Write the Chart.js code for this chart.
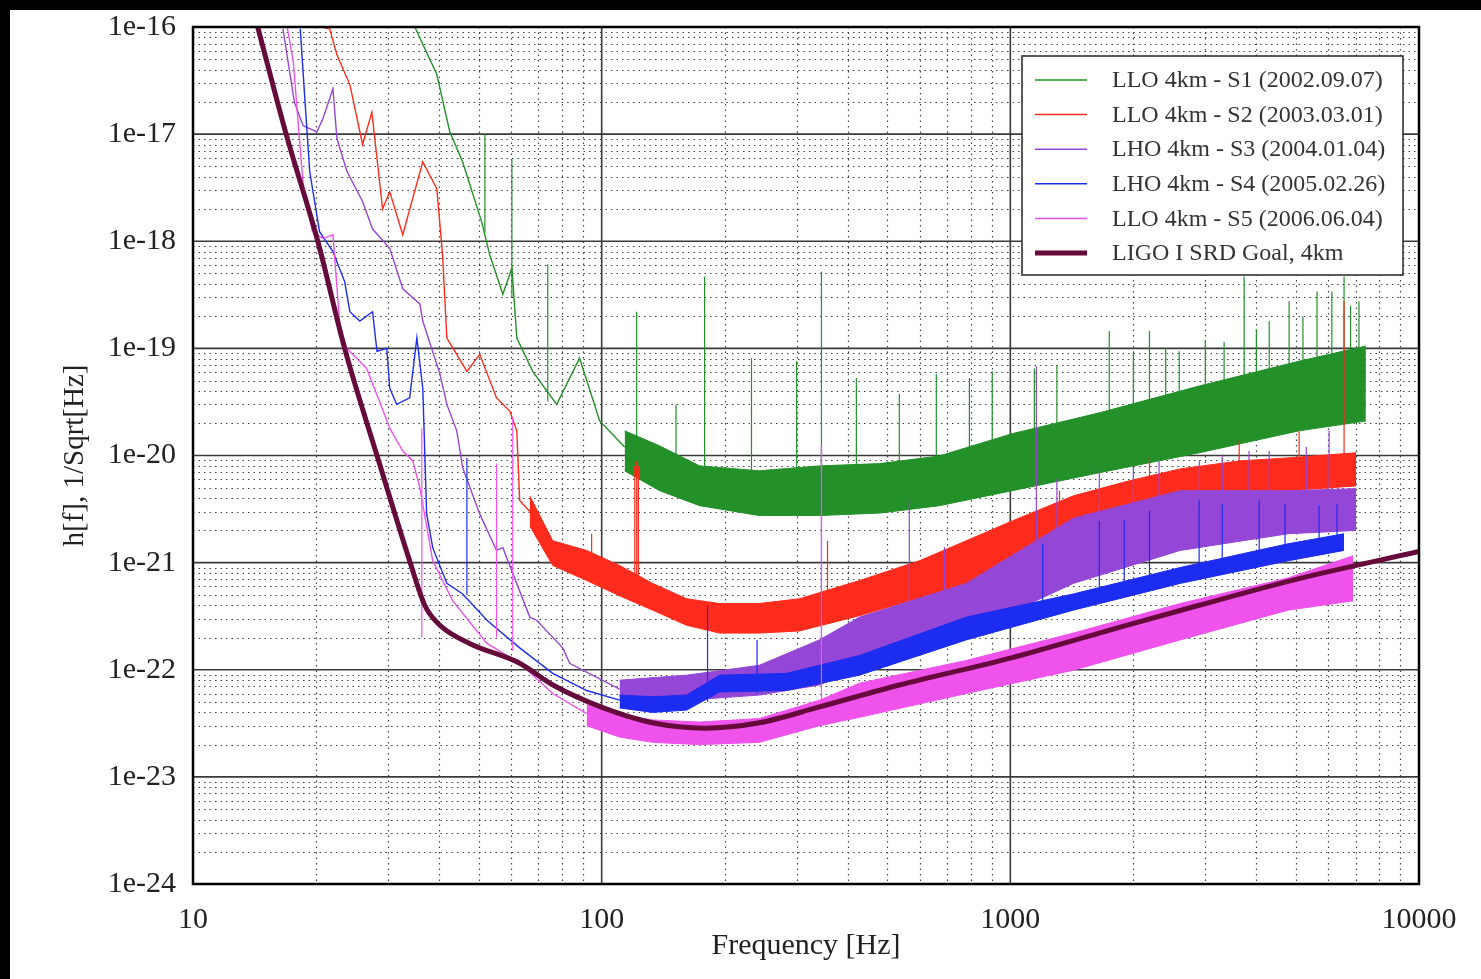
<!DOCTYPE html>
<html>
<head>
<meta charset="utf-8">
<script src="https://cdn.jsdelivr.net/npm/chart.js@4.4.1/dist/chart.umd.min.js"></script>
<style>
  html, body { margin: 0; padding: 0; background: #000; }
  #wrap { width: 1481px; height: 979px; }
</style>
</head>
<body>
<div id="wrap"><canvas id="c" width="1481" height="979"></canvas></div>
<script>
// ---------- data (Hz, 1/sqrt(Hz)) ----------
const seriesLabels = [
  "LLO 4km - S1 (2002.09.07)",
  "LLO 4km - S2 (2003.03.01)",
  "LHO 4km - S3 (2004.01.04)",
  "LHO 4km - S4 (2005.02.26)",
  "LLO 4km - S5 (2006.06.04)",
  "LIGO I SRD Goal, 4km"
];
const seriesColors = ["#23902a", "#ff2b1c", "#9446d6", "#1c2cf0", "#f053ec", "#650a3a"];

const xTickLabels = ["10", "100", "1000", "10000"];
const yTickLabels = ["1e-24", "1e-23", "1e-22", "1e-21", "1e-20", "1e-19", "1e-18", "1e-17", "1e-16"];

// SRD goal
const srdFreq = [14.4, 16.9, 20.2, 23.5, 28.2, 34.0, 36.9, 40.2, 47.5, 63, 76, 101, 133, 179, 243, 341, 535, 1011, 1651, 2897, 5090, 10000];
const srdStrain = [1e-16, 1e-17, 1e-18, 1e-19, 1e-20, 1e-21, 4e-22, 2.6e-22, 1.76e-22, 1.15e-22, 7.2e-23, 4.4e-23, 3.2e-23, 2.85e-23, 3.2e-23, 4.5e-23, 7.2e-23, 1.3e-22, 2.2e-22, 4e-22, 7.1e-22, 1.27e-21];

// S1
const s1Freq = [34.9, 39.5, 42.5, 45.7, 50.9, 53.2, 57.3, 60.3, 62.0, 67.8, 77.6, 88.3, 98.9, 113.8];
const s1Strain = [1e-16, 3.6e-17, 1.05e-17, 5.5e-18, 1.5e-18, 7.5e-19, 3.2e-19, 5.6e-19, 1.25e-19, 6.1e-20, 3.0e-20, 8.1e-20, 2.1e-20, 1.2e-20];
const s1BandFreq = [113.8, 138.6, 173.7, 243, 341, 479, 670, 1011, 1651, 2897, 5090, 7413];
const s1BandHigh = [1.7e-20, 1.23e-20, 8.0e-21, 7.2e-21, 8.0e-21, 8.4e-21, 9.9e-21, 1.6e-20, 2.5e-20, 4.45e-20, 7.6e-20, 1.05e-19];
const s1BandLow = [7.2e-21, 4.7e-21, 3.4e-21, 2.75e-21, 2.75e-21, 2.9e-21, 3.4e-21, 4.7e-21, 6.9e-21, 1.06e-20, 1.7e-20, 2.1e-20];
const s1SpikeFreq = [51.8, 60.3, 73.8, 121.8, 152, 178.6, 232.6, 300, 345, 420, 535, 659, 794, 903, 1145, 1300, 1746, 2000, 2190, 2400, 2590, 3000, 3335, 3733, 4000, 4300, 4810, 5200, 5630, 6120, 6556, 6800, 7130];
const s1SpikeTop = [1e-17, 5.9e-18, 6.1e-19, 2.2e-19, 3.0e-20, 4.7e-19, 8.1e-20, 7.6e-20, 5.2e-19, 5.3e-20, 3.75e-20, 5.75e-20, 5.3e-20, 6.1e-20, 6.5e-20, 7e-20, 1.45e-19, 9e-20, 1.45e-19, 1e-19, 9.4e-20, 1.2e-19, 1.15e-19, 4.7e-19, 1.5e-19, 1.8e-19, 2.75e-19, 2e-19, 3.4e-19, 3.4e-19, 4.7e-19, 2.5e-19, 2.75e-19];
const s1SpikeBase = [1.2e-18, 3e-19, 3.2e-20, 8e-21, 6e-21, 5e-21, 5e-21, 5e-21, 5e-21, 5e-21, 5e-21, 6e-21, 7e-21, 8e-21, 1e-20, 1.2e-20, 1.5e-20, 1.8e-20, 2e-20, 2.2e-20, 2.5e-20, 2.8e-20, 3e-20, 3e-20, 3.5e-20, 4e-20, 4e-20, 4.5e-20, 5e-20, 5e-20, 5e-20, 5e-20, 5e-20];

// S2
const s2Freq = [20.6, 21.6, 22.5, 24.2, 26.0, 27.4, 29.1, 30.3, 32.6, 36.5, 39.5, 40.8, 41.8, 44.2, 46.8, 50.3, 55.3, 59.6, 62.0, 63.0, 66.7];
const s2Strain = [1e-16, 9.6e-17, 5.5e-17, 2.9e-17, 8.0e-18, 1.6e-17, 2.0e-18, 2.9e-18, 1.15e-18, 5.5e-18, 3.1e-18, 7.5e-19, 1.25e-19, 8.8e-20, 6.1e-20, 8.8e-20, 3.45e-20, 2.6e-20, 1.7e-20, 3.8e-21, 3.0e-21];
const s2BandFreq = [66.7, 75.9, 91.9, 110.6, 133.3, 161.4, 194.4, 243, 304.6, 427.6, 599, 780, 1011, 1426, 1954, 2604, 3631, 4783, 7015];
const s2BandHigh = [4.2e-21, 1.6e-21, 1.3e-21, 9.4e-22, 6.4e-22, 4.6e-22, 4.15e-22, 4.15e-22, 4.6e-22, 6.8e-22, 1.04e-21, 1.6e-21, 2.45e-21, 4.2e-21, 5.8e-21, 7.5e-21, 8.9e-21, 9.5e-21, 1.06e-20];
const s2BandLow = [2.2e-21, 9.4e-22, 6.8e-22, 4.9e-22, 3.6e-22, 2.6e-22, 2.2e-22, 2.2e-22, 2.3e-22, 3.2e-22, 4.7e-22, 6.1e-22, 8.4e-22, 1.3e-21, 2.2e-21, 3.05e-21, 4.2e-21, 4.7e-21, 5.2e-21];
const s2SpikeFreq = [94.5, 120.5, 121.8, 123, 357, 1319, 2190, 3631, 5090, 6556];
const s2SpikeTop = [1.86e-21, 8.0e-21, 8.9e-21, 8.0e-21, 1.6e-21, 4.7e-21, 9.9e-21, 1.37e-20, 1.7e-20, 2.75e-19];
const s2SpikeBase = [9e-22, 6e-22, 6e-22, 6e-22, 4e-22, 2e-21, 4e-21, 6e-21, 7e-21, 7e-21];

// S3
const s3Freq = [16.6, 17.7, 18.6, 20.1, 20.8, 22.0, 22.5, 23.8, 26.0, 27.5, 30.3, 32.6, 35.9, 36.5, 40.2, 41.8, 44.2, 45.7, 50.3, 55.3, 57.3, 66.7, 69.3, 80.3, 83.5, 110.6];
const s3Strain = [9.6e-17, 2.0e-17, 1.2e-17, 1.05e-17, 1.4e-17, 2.65e-17, 9.1e-18, 4.5e-18, 2.35e-18, 1.3e-18, 8.6e-19, 3.6e-19, 2.6e-19, 1.8e-19, 5.75e-20, 3.0e-20, 1.7e-20, 7.7e-21, 2.85e-21, 1.3e-21, 1.38e-21, 3.1e-22, 2.9e-22, 1.6e-22, 1.15e-22, 6.6e-23];
const s3BandFreq = [110.6, 161.4, 243, 341, 427.6, 780, 1426, 2604, 4783, 7015];
const s3BandHigh = [8.0e-23, 8.9e-23, 1.1e-22, 1.9e-22, 3.1e-22, 6.4e-22, 2.6e-21, 4.7e-21, 4.7e-21, 4.9e-21];
const s3BandLow = [5.2e-23, 5.2e-23, 5.8e-23, 7.2e-23, 1.05e-22, 2.2e-22, 6.4e-22, 1.3e-21, 1.86e-21, 2.0e-21];
const s3SpikeFreq = [345, 566, 690, 1158, 1300, 1651, 2000, 2312, 2900, 3300, 3838, 4300, 5300, 6026];
const s3SpikeTop = [1.23e-20, 3.8e-21, 1.4e-21, 6.8e-20, 6e-21, 7.2e-21, 8e-21, 8.9e-21, 9e-21, 1.0e-20, 1.1e-20, 1.1e-20, 1.2e-20, 1.7e-20];
const s3SpikeBase = [1e-22, 2e-22, 3e-22, 1e-21, 1.5e-21, 2e-21, 2.5e-21, 3e-21, 3e-21, 3e-21, 3e-21, 3e-21, 3e-21, 3e-21];

// S4
const s4Freq = [18.3, 18.8, 19.3, 20.4, 22.0, 23.5, 24.2, 25.6, 27.5, 28.2, 29.8, 30.3, 31.5, 33.9, 35.3, 36.5, 37.3, 38.6, 41.8, 45.7, 52.4, 63.0, 75.9, 91.9, 110.6];
const s4Strain = [9.6e-17, 2.0e-17, 4.5e-18, 1.23e-18, 8.0e-19, 4.2e-19, 2.2e-19, 1.8e-19, 2.2e-19, 9.4e-20, 1.0e-19, 4.25e-20, 3.0e-20, 3.45e-20, 1.25e-19, 4.25e-20, 2.85e-21, 1.38e-21, 6.4e-22, 5.1e-22, 2.9e-22, 1.6e-22, 9.25e-23, 6.4e-23, 5.2e-23];
const s4BandFreq = [110.6, 133.3, 161.4, 194.4, 283, 427.6, 780, 1426, 2604, 4783, 6556];
const s4BandHigh = [5.8e-23, 5.6e-23, 5.8e-23, 8.9e-23, 9.25e-23, 1.36e-22, 3.1e-22, 5.1e-22, 9.0e-22, 1.5e-21, 1.86e-21];
const s4BandLow = [4.4e-23, 4.0e-23, 4.2e-23, 6.2e-23, 6.4e-23, 8.9e-23, 1.9e-22, 3.6e-22, 6.4e-22, 1.04e-21, 1.3e-21];
const s4SpikeFreq = [46.8, 181.6, 240, 1200, 1651, 1900, 2190, 2897, 3300, 4064, 4700, 5695, 6300];
const s4SpikeTop = [9.5e-21, 4.0e-22, 1.9e-22, 1.5e-21, 2.45e-21, 2.5e-21, 3.05e-21, 3.8e-21, 3.5e-21, 3.8e-21, 3.5e-21, 3.4e-21, 3.5e-21];
const s4SpikeBase = [5e-22, 5e-23, 6e-23, 4e-22, 5e-22, 6e-22, 6e-22, 8e-22, 9e-22, 1e-21, 1.1e-21, 1.3e-21, 1.3e-21];

// S5
const s5Freq = [17.0, 17.6, 18.0, 18.6, 19.6, 20.8, 22.0, 22.9, 23.8, 26.6, 28.6, 30.3, 32.6, 34.5, 35.9, 38.6, 43.2, 52.4, 63.0, 75.9, 91.9];
const s5Strain = [1e-16, 4.7e-17, 1.6e-17, 3.4e-18, 1.23e-18, 1.06e-18, 1.15e-18, 1.55e-19, 1.0e-19, 6.5e-20, 3.2e-20, 1.8e-20, 1.1e-20, 8.9e-21, 5.0e-21, 1.04e-21, 4.4e-22, 1.76e-22, 1.15e-22, 6.0e-23, 3.9e-23];
const s5BandFreq = [91.9, 110.6, 133.3, 173.7, 243, 341, 427.6, 780, 1426, 2604, 4783, 6900];
const s5BandHigh = [4.7e-23, 3.8e-23, 3.4e-23, 3.25e-23, 3.5e-23, 5.2e-23, 7.5e-23, 1.22e-22, 2.2e-22, 4.15e-22, 7.2e-22, 1.16e-21];
const s5BandLow = [3.0e-23, 2.35e-23, 2.1e-23, 2.0e-23, 2.1e-23, 3.0e-23, 3.6e-23, 6.0e-23, 9.9e-23, 1.9e-22, 3.6e-22, 4.4e-22];
const s5SpikeFreq = [36.3, 55.3, 60.6, 345];
const s5SpikeTop = [1.8e-20, 8.4e-21, 2.3e-20, 1.23e-20];
const s5SpikeBase = [2e-22, 2e-22, 1.5e-22, 4e-23];

// ---------- helpers ----------
function points(fs, vs) {
  return fs.map((f, i) => ({ x: f, y: vs[i] }));
}
function spikePoints(fs, tops, bases) {
  const out = [];
  fs.forEach((f, i) => {
    out.push({ x: f, y: bases[i] }, { x: f, y: tops[i] }, { x: f, y: null });
  });
  return out;
}

const runs = [
  [s1Freq, s1Strain, s1BandFreq, s1BandHigh, s1BandLow, s1SpikeFreq, s1SpikeTop, s1SpikeBase],
  [s2Freq, s2Strain, s2BandFreq, s2BandHigh, s2BandLow, s2SpikeFreq, s2SpikeTop, s2SpikeBase],
  [s3Freq, s3Strain, s3BandFreq, s3BandHigh, s3BandLow, s3SpikeFreq, s3SpikeTop, s3SpikeBase],
  [s4Freq, s4Strain, s4BandFreq, s4BandHigh, s4BandLow, s4SpikeFreq, s4SpikeTop, s4SpikeBase],
  [s5Freq, s5Strain, s5BandFreq, s5BandHigh, s5BandLow, s5SpikeFreq, s5SpikeTop, s5SpikeBase]
];

const datasets = [];
runs.forEach((r, k) => {
  const color = seriesColors[k];
  const order = 5 - k; // later runs sit on top
  datasets.push({ label: seriesLabels[k], data: points(r[0], r[1]), borderColor: color, borderWidth: 1.4, order });
  datasets.push({ label: "hi", data: points(r[2], r[3]), borderColor: color, borderWidth: 1, fill: false, order });
  datasets.push({ label: "lo", data: points(r[2], r[4]), borderColor: color, borderWidth: 1, backgroundColor: color, fill: "-1", order });
  datasets.push({ label: "spikes", data: spikePoints(r[5], r[6], r[7]), borderColor: color, borderWidth: 1.2, order });
});
datasets.push({
  label: seriesLabels[5],
  data: points(srdFreq, srdStrain),
  borderColor: seriesColors[5],
  borderWidth: 5,
  cubicInterpolationMode: "monotone",
  order: 0
});

const serif = '"Liberation Serif", "DejaVu Serif", serif';

// ---------- plugin: background, grid, frame, legend ----------
const paper = {
  id: "paper",
  beforeDraw(chart) {
    const ctx = chart.ctx;
    ctx.save();
    ctx.fillStyle = "#fff";
    ctx.fillRect(0, 0, chart.width, chart.height);
    ctx.fillStyle = "#000";
    ctx.fillRect(0, 0, chart.width, 10);
    ctx.fillRect(0, 0, 10, chart.height);
    ctx.restore();
  },
  beforeDatasetsDraw(chart) {
    const ctx = chart.ctx;
    const xs = chart.scales.x, ys = chart.scales.y;
    const { left, right, top, bottom } = chart.chartArea;
    ctx.save();
    // minor dotted grid
    ctx.strokeStyle = "#444";
    ctx.lineWidth = 1.2;
    ctx.setLineDash([1.5, 4]);
    ctx.beginPath();
    for (let e = 1; e < 4; e++) {
      for (let m = 2; m < 10; m++) {
        const px = Math.round(xs.getPixelForValue(m * Math.pow(10, e))) + 0.5;
        ctx.moveTo(px, top); ctx.lineTo(px, bottom);
      }
    }
    for (let e = -24; e < -16; e++) {
      for (let m = 2; m < 10; m++) {
        const py = Math.round(ys.getPixelForValue(m * Math.pow(10, e))) + 0.5;
        ctx.moveTo(left, py); ctx.lineTo(right, py);
      }
    }
    ctx.stroke();
    // major solid grid
    ctx.setLineDash([]);
    ctx.strokeStyle = "#3a3a3a";
    ctx.lineWidth = 1.6;
    ctx.beginPath();
    for (let e = 2; e < 4; e++) {
      const px = xs.getPixelForValue(Math.pow(10, e));
      ctx.moveTo(px, top); ctx.lineTo(px, bottom);
    }
    for (let e = -23; e < -16; e++) {
      const py = ys.getPixelForValue(Math.pow(10, e));
      ctx.moveTo(left, py); ctx.lineTo(right, py);
    }
    ctx.stroke();
    ctx.restore();
  },
  afterDatasetsDraw(chart) {
    const ctx = chart.ctx;
    const { left, right, top, bottom } = chart.chartArea;
    ctx.save();
    ctx.strokeStyle = "#000";
    ctx.lineWidth = 2.5;
    ctx.strokeRect(left, top, right - left, bottom - top);

    // legend box
    const bx = 1022, by = 56, bw = 381, bh = 219;
    ctx.fillStyle = "#fff";
    ctx.fillRect(bx, by, bw, bh);
    ctx.strokeStyle = "#333";
    ctx.lineWidth = 1.6;
    ctx.strokeRect(bx, by, bw, bh);
    ctx.font = "24px " + serif;
    ctx.textBaseline = "middle";
    ctx.textAlign = "left";
    seriesLabels.forEach((lab, i) => {
      const y = 80 + i * 34.6;
      ctx.strokeStyle = seriesColors[i];
      ctx.lineWidth = i === 5 ? 5 : 1.5;
      ctx.beginPath();
      ctx.moveTo(1035, y); ctx.lineTo(1087, y);
      ctx.stroke();
      ctx.fillStyle = "#333";
      ctx.fillText(lab, 1112, y + 1);
    });
    ctx.restore();
  }
};

function isDecade(v) {
  const e = Math.log10(v);
  return Math.abs(e - Math.round(e)) < 1e-6;
}

new Chart(document.getElementById("c"), {
  type: "line",
  data: { datasets },
  plugins: [paper],
  options: {
    responsive: false,
    animation: false,
    devicePixelRatio: 1,
    layout: { padding: { left: 10, top: 25, right: 62, bottom: 0 } },
    elements: { point: { radius: 0 }, line: { tension: 0 } },
    plugins: { legend: { display: false }, tooltip: { enabled: false } },
    scales: {
      x: {
        type: "logarithmic",
        min: 10,
        max: 10000,
        grid: { display: false },
        border: { display: false },
        ticks: {
          autoSkip: false,
          maxRotation: 0,
          padding: 10,
          color: "#222",
          font: { family: serif, size: 30 },
          callback: (v) => isDecade(v) ? xTickLabels[Math.round(Math.log10(v)) - 1] : ""
        },
        title: {
          display: true,
          text: "Frequency [Hz]",
          color: "#222",
          font: { family: serif, size: 30 },
          padding: { top: 0, bottom: 15 }
        },
        afterFit: (s) => { s.height = 95; }
      },
      y: {
        type: "logarithmic",
        min: 1e-24,
        max: 1e-16,
        grid: { display: false },
        border: { display: false },
        ticks: {
          autoSkip: false,
          padding: 9,
          color: "#222",
          font: { family: serif, size: 30 },
          callback: (v) => isDecade(v) ? yTickLabels[Math.round(Math.log10(v)) + 24] : ""
        },
        title: {
          display: true,
          text: "h[f], 1/Sqrt[Hz]",
          color: "#222",
          font: { family: serif, size: 29 },
          padding: { top: 48, bottom: 0 }
        },
        afterFit: (s) => { s.width = 183; }
      }
    }
  }
});
</script>
</body>
</html>
